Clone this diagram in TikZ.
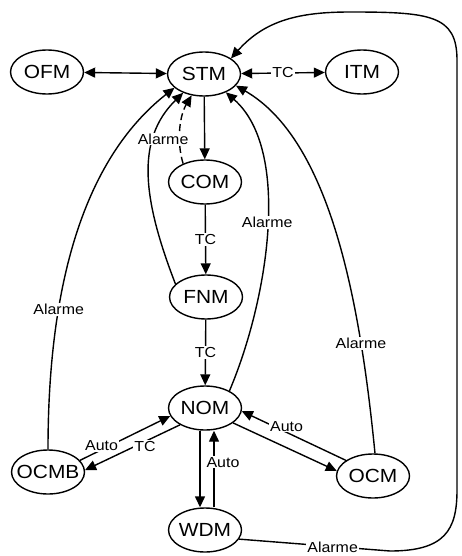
\documentclass[tikz,border=0pt]{standalone}
\usepackage{fontspec}
\setmainfont{Liberation Sans}
\newfontfamily\nodefont[FakeStretch=1.1]{Liberation Sans}
\newfontfamily\labelfont[FakeStretch=1.1]{Liberation Sans}
\usetikzlibrary{arrows.meta,shapes.geometric}
\begin{document}
\begin{tikzpicture}[x=1pt,y=-1pt,
  mod/.style={ellipse,draw,line width=1.4pt,minimum width=73pt,minimum height=44pt,
    inner xsep=-6pt,inner ysep=0pt,font=\nodefont\fontsize{19}{21}\selectfont},
  conn/.style={line width=1.4pt,-{Triangle[length=11pt,width=10pt]}},
  both/.style={line width=1.4pt,{Triangle[length=11pt,width=10pt]}-{Triangle[length=11pt,width=10pt]}},
  lbl/.style={fill=white,inner sep=1pt,solid,font=\labelfont\fontsize{14.5}{16}\selectfont}]
\useasboundingbox (0,0) rectangle (461,556);
\node[mod] (OFM) at (47,72) {OFM};
\node[mod] (STM) at (204,74) {STM};
\node[mod] (ITM) at (362,72) {ITM};
\node[mod] (COM) at (205,182) {COM};
\node[mod] (FNM) at (206,297) {FNM};
\node[mod] (NOM) at (205,408) {NOM};
\node[mod] (OCMB) at (48,472) {OCMB};
\node[mod] (OCM) at (373,476) {OCM};
\node[mod] (WDM) at (205,530) {WDM};
% top row
\draw[both] (OFM) -- (STM);
\draw[both] (STM) -- node[lbl]{TC} (ITM);
% main chain
\draw[conn] (STM) -- (COM);
\draw[conn] (COM) -- node[lbl]{TC} (FNM);
\draw[conn] (FNM) -- node[lbl]{TC} (NOM);
% alarms to STM
\draw[conn,dash pattern=on 7pt off 4pt] (COM.140) .. controls (176,140) and (180,115) .. (STM.240);
\draw[conn] (FNM.157) .. controls (143,200) and (135,140) .. node[lbl,pos=0.7,xshift=9pt]{Alarme} (STM.222);
\draw[conn] (OCMB.north) .. controls (48,320) and (70,170) .. node[lbl,pos=0.35]{Alarme} (STM.205);
\draw[conn] (NOM.35) .. controls (268,300) and (292,150) .. node[lbl,pos=0.52]{Alarme} (STM.320);
\draw[conn] (OCM.85) .. controls (360,300) and (330,140) .. node[lbl,pos=0.24]{Alarme} (STM.340);
\draw[conn] (WDM.345) -- node[lbl,pos=0.62,yshift=-1pt]{Alarme} (390,551)
  .. controls (445,551) and (457,530) .. (457,490) -- (457,60)
  .. controls (457,15) and (430,12) .. (350,12)
  .. controls (300,12) and (265,20) .. (STM.30);
% lower part
\draw[conn] (OCMB.20) -- node[lbl,pos=0.24,yshift=4pt]{Auto} (NOM.193);
\draw[conn] (NOM.214) -- node[lbl,pos=0.37,yshift=-5pt]{TC} (OCMB.3);
\draw[conn] (NOM.332) -- (OCM.172);
\draw[conn] (OCM.150) -- node[lbl,pos=0.57,yshift=6pt]{Auto} (NOM.355);
\draw[conn] ([xshift=-5pt]NOM.south) -- ([xshift=-5pt]WDM.north);
\draw[conn] ([xshift=9pt]WDM.north) -- node[lbl,pos=0.59,xshift=9pt]{Auto} ([xshift=9pt]NOM.south);
\end{tikzpicture}
\end{document}
